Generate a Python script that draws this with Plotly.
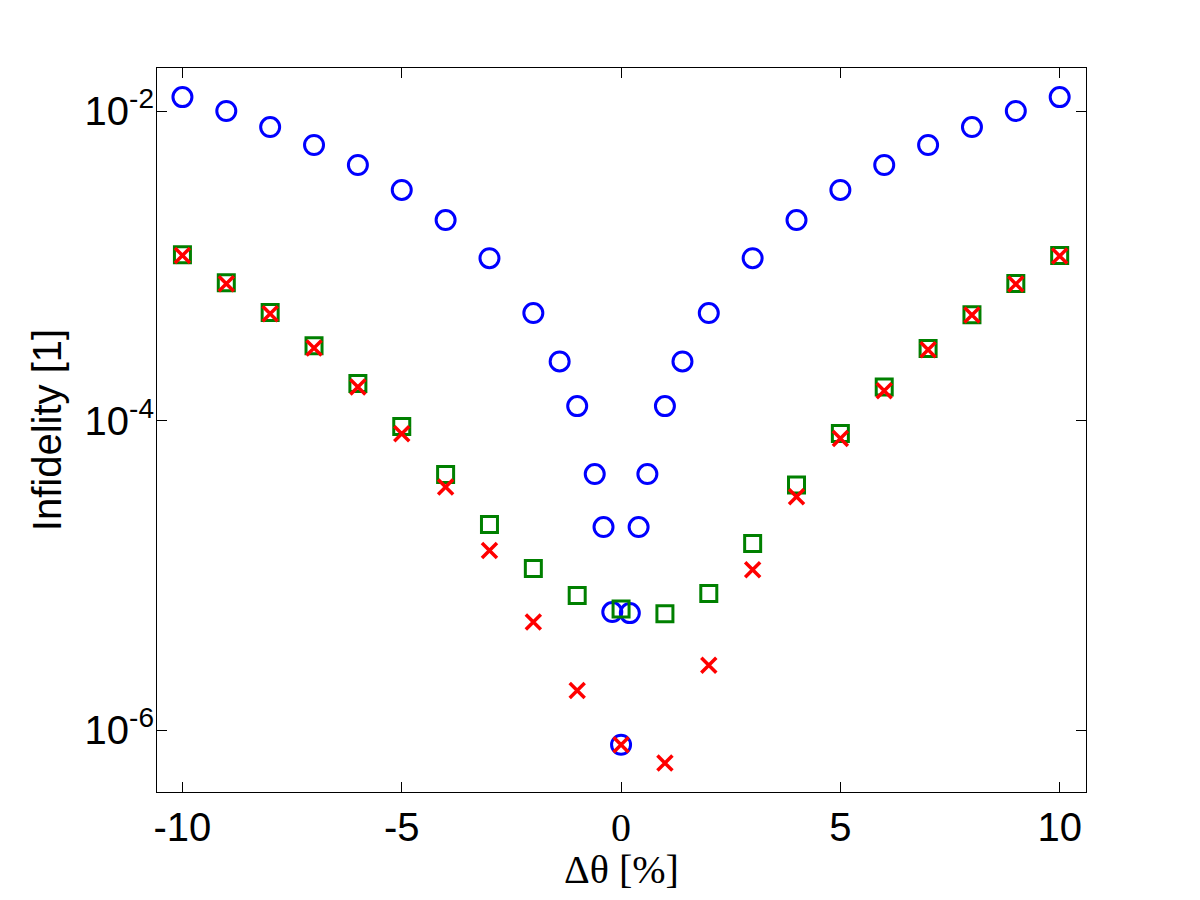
import plotly.graph_objects as go

# detuning values (percent)
x_int = [-10, -9, -8, -7, -6, -5, -4, -3, -2, -1, 0, 1, 2, 3, 4, 5, 6, 7, 8, 9, 10]
x_blue = [-10, -9, -8, -7, -6, -5, -4, -3, -2, -1.4, -1, -0.6, -0.4, -0.2, 0,
          0.2, 0.4, 0.6, 1, 1.4, 2, 3, 4, 5, 6, 7, 8, 9, 10]

# infidelity values
blue_vals = [1.23e-2, 1.0e-2, 7.88e-3, 6.03e-3, 4.48e-3, 3.09e-3, 1.975e-3, 1.12e-3,
             4.95e-4, 2.41e-4, 1.24e-4, 4.51e-5, 2.05e-5, 5.79e-6, 8.04e-7,
             5.70e-6, 2.05e-5, 4.51e-5, 1.24e-4, 2.41e-4, 4.95e-4, 1.12e-3,
             1.975e-3, 3.09e-3, 4.48e-3, 6.03e-3, 7.88e-3, 1.0e-2, 1.23e-2]
green_vals = [1.179e-3, 7.77e-4, 4.99e-4, 3.04e-4, 1.738e-4, 9.16e-5, 4.49e-5, 2.13e-5,
              1.107e-5, 7.41e-6, 6.05e-6, 5.64e-6, 7.63e-6, 1.607e-5, 3.83e-5,
              8.25e-5, 1.646e-4, 2.924e-4, 4.83e-4, 7.69e-4, 1.167e-3]
red_vals = [1.167e-3, 7.66e-4, 4.90e-4, 2.94e-4, 1.646e-4, 8.21e-5, 3.72e-5, 1.447e-5,
            4.99e-6, 1.80e-6, 8.04e-7, 6.12e-7, 2.62e-6, 1.086e-5, 3.22e-5,
            7.66e-5, 1.558e-4, 2.868e-4, 4.81e-4, 7.62e-4, 1.156e-3]

x_ticks = [-10, -5, 0, 5, 10]
x_ticktext = ["-10", "-5", "<span style='font-family:Liberation Serif, Times New Roman, serif'>0</span>", "5", "10"]
y_ticks = [1e-6, 1e-4, 1e-2]
y_ticktext = ["10<sup>-6</sup>", "10<sup>-4</sup>", "10<sup>-2</sup>"]

sans = "Liberation Sans, Arial, sans-serif"
serif = "Liberation Serif, Times New Roman, serif"

fig = go.Figure()
fig.add_trace(go.Scatter(
    x=x_blue, y=blue_vals, mode="markers",
    marker=dict(symbol="circle-open", size=19, color="#0000ff", line=dict(width=3)),
))
fig.add_trace(go.Scatter(
    x=x_int, y=green_vals, mode="markers",
    marker=dict(symbol="square-open", size=16, color="#008000", line=dict(width=3)),
))
fig.add_trace(go.Scatter(
    x=x_int, y=red_vals, mode="markers",
    marker=dict(symbol="x-thin-open", size=15, color="#ff0000", line=dict(width=3.5, color="#ff0000")),
))

# page body adds an 8px offset, so margins are shifted to compensate
fig.update_layout(
    width=1184, height=884,
    margin=dict(l=149, r=106, t=60, b=100),
    paper_bgcolor="white", plot_bgcolor="white",
    showlegend=False,
    font=dict(family=sans, size=40, color="black"),
)
fig.update_xaxes(
    range=[-10.58, 10.6], tickvals=x_ticks, ticktext=x_ticktext, automargin=False,
    showline=True, linecolor="black", linewidth=1, mirror="ticks",
    ticks="inside", ticklen=10, tickcolor="black", showgrid=False, zeroline=False,
    tickfont=dict(size=40),
    title=dict(text="Δθ [%]", font=dict(family=serif, size=40), standoff=8),
)
fig.update_yaxes(
    type="log", range=[-6.4, -1.722], tickvals=y_ticks, ticktext=y_ticktext, automargin=False,
    showline=True, linecolor="black", linewidth=1, mirror="ticks",
    ticks="inside", ticklen=10, tickcolor="black", showgrid=False, zeroline=False,
    tickfont=dict(size=40), ticklabelstandoff=-6,
    title=dict(text="Infidelity [1]", font=dict(size=40), standoff=10),
)

fig.write_html("out.html")
